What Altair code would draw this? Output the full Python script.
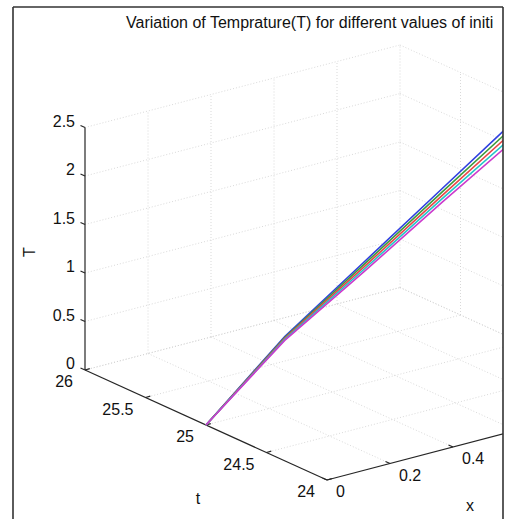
import altair as alt
import pandas as pd

# ---------------- data ----------------
x_pts = [0.0, 0.25, 0.5, 0.75, 1.0]
t_const = 25
series = ["s1", "s2", "s3", "s4", "s5"]
T_s1 = [0.0, 0.70, 1.25, 1.80, 2.35]
T_s2 = [0.0, 0.69, 1.225, 1.765, 2.30]
T_s3 = [0.0, 0.68, 1.20, 1.73, 2.25]
T_s4 = [0.0, 0.67, 1.175, 1.695, 2.20]
T_s5 = [0.0, 0.66, 1.15, 1.66, 2.15]
series_colors = ["#2f3fe0", "#3c9a3c", "#e84646", "#22c6c6", "#cc3acc"]

T_ticks = [0, 0.5, 1, 1.5, 2, 2.5]
T_labels = ["0", "0.5", "1", "1.5", "2", "2.5"]
t_ticks = [24, 24.5, 25, 25.5, 26]
t_labels = ["24", "24.5", "25", "25.5", "26"]
x_ticks = [0, 0.2, 0.4, 0.6, 0.8, 1.0]
x_labels = ["0", "0.2", "0.4", "0.6", "0.8", "1"]
title_text = "Variation of Temprature(T) for different values of initi"

# ---------------- 3-D -> screen projection ----------------
W, H, PADR = 503, 519, 10
O = (85.0, 370.0)        # (t=26, x=0, T=0)
EX = (315.0, -82.5)      # per unit x
ET = (-121.0, -55.0)     # per unit t
EZ = (0.0, -97.0)        # per unit T


def proj(t, x, T):
    return (O[0] + EX[0] * x + ET[0] * (t - 26) + EZ[0] * T,
            O[1] + EX[1] * x + ET[1] * (t - 26) + EZ[1] * T)


def seg(a, b):
    p, q = proj(*a), proj(*b)
    return {"px": p[0], "py": p[1], "px2": q[0], "py2": q[1]}


# grid segments
grid = []
for xv in x_ticks[1:]:
    grid.append(seg((26, xv, 0), (26, xv, 2.5)))
    grid.append(seg((26, xv, 0), (24, xv, 0)))
for Tv in T_ticks:
    grid.append(seg((26, 0, Tv), (26, 1, Tv)))
    grid.append(seg((26, 1, Tv), (24, 1, Tv)))
for tv in t_ticks[:-1]:
    grid.append(seg((tv, 1, 0), (tv, 1, 2.5)))
for tv in t_ticks[1:]:
    grid.append(seg((tv, 0, 0), (tv, 1, 0)))
grid_df = pd.DataFrame(grid)

# axis lines and ticks
axes = [seg((26, 0, 0), (26, 0, 2.5)),
        seg((26, 0, 0), (24, 0, 0)),
        seg((24, 0, 0), (24, 1, 0))]
for Tv in T_ticks:
    p = proj(26, 0, Tv)
    axes.append({"px": p[0], "py": p[1], "px2": p[0] - 4.5, "py2": p[1] - 2})
for tv in t_ticks:
    p = proj(tv, 0, 0)
    axes.append({"px": p[0], "py": p[1], "px2": p[0] + 4.8, "py2": p[1] - 1.3})
for xv in x_ticks:
    p = proj(24, xv, 0)
    axes.append({"px": p[0], "py": p[1], "px2": p[0] - 4.5, "py2": p[1] - 2})
axes_df = pd.DataFrame(axes)

# data lines
rows = []
for name, Ts in zip(series, [T_s1, T_s2, T_s3, T_s4, T_s5]):
    for i, (xv, Tv) in enumerate(zip(x_pts, Ts)):
        p = proj(t_const, xv, Tv)
        rows.append({"series": name, "i": i, "px": p[0], "py": p[1]})
lines_df = pd.DataFrame(rows)

# labels (only those that fall inside the figure)
Tl = pd.DataFrame([{"px": proj(26, 0, v)[0] - 10, "py": proj(26, 0, v)[1] - 6, "txt": s}
                   for v, s in zip(T_ticks, T_labels)])
tl = pd.DataFrame([{"px": proj(v, 0, 0)[0] - 12, "py": proj(v, 0, 0)[1] + 12, "txt": s}
                   for v, s in zip(t_ticks, t_labels)])
xl = pd.DataFrame([{"px": proj(24, v, 0)[0] + 9, "py": proj(24, v, 0)[1] + 12, "txt": s}
                   for v, s in zip(x_ticks, x_labels) if proj(24, v, 0)[0] + 30 < W])

xs = alt.Scale(domain=[0, W], nice=False, zero=False)
ys = alt.Scale(domain=[H, 0], nice=False, zero=False)
X = lambda f: alt.X(f"{f}:Q", scale=xs, axis=None)
Y = lambda f: alt.Y(f"{f}:Q", scale=ys, axis=None)

FONT = "Liberation Sans"
FS = 16

grid_layer = alt.Chart(grid_df).mark_rule(
    color="#cfcfcf", strokeWidth=0.8, strokeDash=[1, 2], clip=True
).encode(x=X("px"), y=Y("py"), x2="px2:Q", y2="py2:Q")

axes_layer = alt.Chart(axes_df).mark_rule(
    color="#262626", strokeWidth=1.2, clip=True
).encode(x=X("px"), y=Y("py"), x2="px2:Q", y2="py2:Q")

lines_layer = alt.Chart(lines_df).mark_line(strokeWidth=1.6, clip=True).encode(
    x=X("px"), y=Y("py"),
    color=alt.Color("series:N", scale=alt.Scale(domain=series, range=series_colors), legend=None),
    order="i:Q",
)

def text_layer(df, align):
    return alt.Chart(df).mark_text(
        align=align, baseline="middle", font=FONT, fontSize=FS, color="#111111", clip=True
    ).encode(x=X("px"), y=Y("py"), text="txt:N")

Tl_layer = text_layer(Tl, "right")
tl_layer = text_layer(tl, "right")
xl_layer = text_layer(xl, "left")

titles_df = pd.DataFrame([
    {"px": 30, "py": 252, "txt": "T", "ang": 270},
    {"px": 198, "py": 499, "txt": "t", "ang": 0},
    {"px": 470, "py": 506, "txt": "x", "ang": 0},
])
axis_titles = alt.Chart(titles_df).mark_text(
    baseline="middle", align="center", font=FONT, fontSize=FS, color="#111111"
).encode(x=X("px"), y=Y("py"), text="txt:N", angle=alt.Angle("ang:Q", scale=None))

title_df = pd.DataFrame([{"px": 126, "py": 23, "txt": title_text}])
title_layer = alt.Chart(title_df).mark_text(
    align="left", baseline="middle", font=FONT, fontSize=16, color="#111111", clip=True
).encode(x=X("px"), y=Y("py"), text="txt:N")

frame_df = pd.DataFrame([
    {"px": 13, "py": 7, "px2": 13, "py2": H},
    {"px": W, "py": 7, "px2": W, "py2": H},
    {"px": 13, "py": 7, "px2": W, "py2": 7},
])
frame_layer = alt.Chart(frame_df).mark_rule(color="#333333", strokeWidth=1.6).encode(
    x=X("px"), y=Y("py"), x2="px2:Q", y2="py2:Q")

chart = alt.layer(
    grid_layer, axes_layer, lines_layer, Tl_layer, tl_layer, xl_layer,
    axis_titles, title_layer, frame_layer
).properties(
    width=W, height=H,
    padding={"left": 0, "top": 0, "right": PADR, "bottom": 0},
    autosize=alt.AutoSizeParams(type="none"),
    background="white",
).configure_view(stroke=None)

chart.save("out.html", embed_options={"renderer": "svg", "actions": False})
